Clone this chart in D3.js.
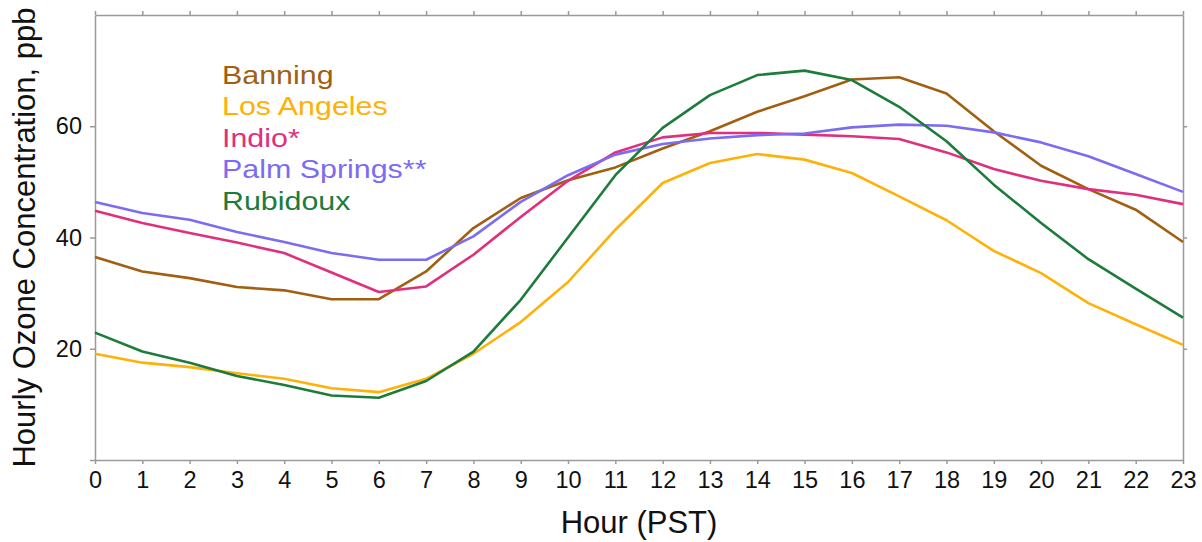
<!DOCTYPE html>
<html>
<head>
<meta charset="utf-8">
<script src="https://cdn.jsdelivr.net/npm/d3@7"></script>
<style>
  html, body { margin: 0; padding: 0; background: #fff; }
  svg { display: block; font-family: "Liberation Sans", Arial, sans-serif; }
</style>
</head>
<body>
<svg id="chart" width="1202" height="542"></svg>
<script>
// Hour of day (PST)
const hours = d3.range(0, 24);

// Mean hourly ozone concentration by site, ppb
const banning     = [36.5, 33.9, 32.7, 31.1, 30.5, 28.9, 28.9, 33.9, 41.7, 47.1, 50.3, 52.6, 56.0, 59.1, 62.6, 65.4, 68.4, 68.8, 65.9, 59.1, 52.9, 48.7, 45.0, 39.2];
const losAngeles  = [19.1, 17.5, 16.7, 15.6, 14.6, 12.9, 12.2, 14.6, 19.1, 24.8, 32.0, 41.4, 49.8, 53.4, 55.0, 54.0, 51.6, 47.4, 43.1, 37.6, 33.6, 28.2, 24.4, 20.7];
const indio       = [44.8, 42.6, 40.8, 39.1, 37.2, 33.7, 30.2, 31.2, 36.9, 43.7, 50.2, 55.3, 58.0, 58.8, 58.8, 58.5, 58.2, 57.7, 55.3, 52.3, 50.2, 48.7, 47.7, 46.0];
const palmSprings = [46.4, 44.4, 43.2, 41.0, 39.2, 37.2, 36.0, 36.0, 40.2, 46.4, 51.2, 54.9, 56.8, 57.8, 58.4, 58.7, 59.8, 60.3, 60.1, 58.9, 57.1, 54.6, 51.4, 48.2];
const rubidoux    = [22.9, 19.5, 17.5, 15.1, 13.5, 11.6, 11.2, 14.2, 19.5, 28.8, 40.0, 51.2, 59.7, 65.6, 69.2, 70.0, 68.3, 63.5, 57.3, 49.5, 42.6, 36.1, 30.8, 25.6];

const siteNames  = ["Banning", "Los Angeles", "Indio*", "Palm Springs**", "Rubidoux"];
const siteValues = [banning, losAngeles, indio, palmSprings, rubidoux];
const siteColors = ["#a15f12", "#ffb10a", "#e0307d", "#7b6cf2", "#1d7b3b"];

const yTicks = [20, 40, 60];

const svg = d3.select("#chart");
const margin = { top: 15, right: 19, bottom: 82, left: 95 };
const width = 1202 - margin.left - margin.right;
const height = 542 - margin.top - margin.bottom;

const x = d3.scaleLinear().domain([0, 23]).range([margin.left, margin.left + width]);
const y = d3.scaleLinear().domain([0, 80]).range([margin.top + height, margin.top]);

const axisColor = "#9a9a9a";

function styleAxis(g) {
  g.select(".domain").attr("stroke", axisColor).attr("stroke-width", 1.5);
  g.selectAll(".tick line").attr("stroke", axisColor).attr("stroke-width", 1.5);
  g.selectAll(".tick text").attr("fill", "#111").style("font-size", "23.5px")
    .style("font-family", "'Liberation Sans', Arial, sans-serif");
}

// Bottom axis with hour labels
svg.append("g")
  .attr("transform", `translate(0,${margin.top + height})`)
  .call(d3.axisBottom(x).tickValues(hours).tickFormat(d3.format("d")).tickSize(4).tickPadding(7).tickSizeOuter(0))
  .call(styleAxis);

// Top axis: ticks only
svg.append("g")
  .attr("transform", `translate(0,${margin.top})`)
  .call(d3.axisTop(x).tickValues(hours).tickFormat("").tickSize(4).tickSizeOuter(0))
  .call(styleAxis);

// Left axis with concentration labels
svg.append("g")
  .attr("transform", `translate(${margin.left},0)`)
  .call(d3.axisLeft(y).tickValues([0, ...yTicks]).tickFormat(d => yTicks.includes(d) ? d : "")
    .tickSize(5).tickPadding(8).tickSizeOuter(0))
  .call(styleAxis);

// Right axis: ticks only
svg.append("g")
  .attr("transform", `translate(${margin.left + width},0)`)
  .call(d3.axisRight(y).tickValues(yTicks).tickFormat("").tickSize(4).tickSizeOuter(0))
  .call(styleAxis);

// Series lines
const line = d3.line().x((d, i) => x(hours[i])).y(d => y(d));

svg.append("g")
  .selectAll("path")
  .data(siteValues)
  .join("path")
  .attr("d", line)
  .attr("fill", "none")
  .attr("stroke", (d, i) => siteColors[i])
  .attr("stroke-width", 2.6)
  .attr("stroke-linejoin", "round");

// Legend as coloured site names, set in a slightly wide type
svg.append("g")
  .attr("transform", "translate(222,0) scale(1.17,1)")
  .selectAll("text")
  .data(siteNames)
  .join("text")
  .attr("x", 0)
  .attr("y", (d, i) => 84 + i * 31.5)
  .attr("fill", (d, i) => siteColors[i])
  .style("font-size", "26px")
  .text(d => d);

// Axis titles
svg.append("text")
  .attr("x", margin.left + width / 2)
  .attr("y", 533)
  .attr("text-anchor", "middle")
  .attr("fill", "#111")
  .style("font-size", "31px")
  .text("Hour (PST)");

svg.append("text")
  .attr("transform", `translate(35,${margin.top + height / 2}) rotate(-90)`)
  .attr("text-anchor", "middle")
  .attr("fill", "#111")
  .style("font-size", "31px")
  .text("Hourly Ozone Concentration, ppb");
</script>
</body>
</html>
